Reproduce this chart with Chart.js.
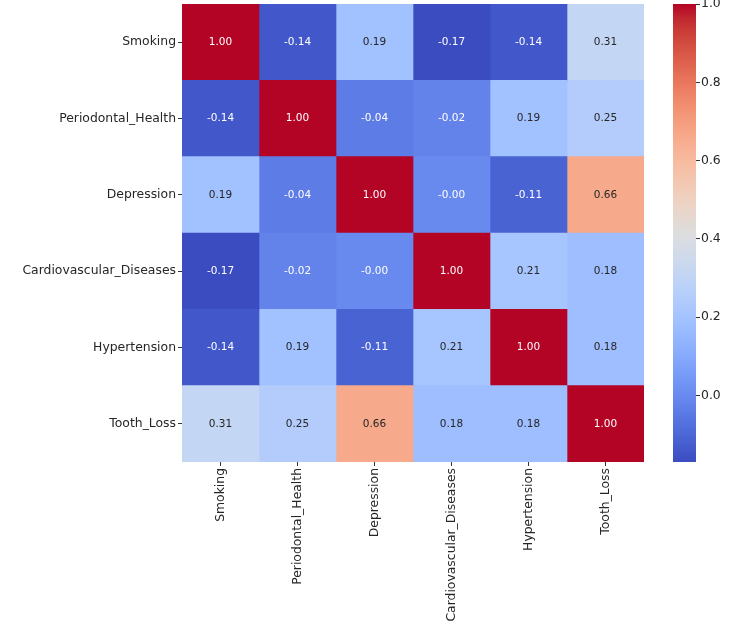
<!DOCTYPE html>
<html>
<head>
<meta charset="utf-8">
<script src="https://cdn.jsdelivr.net/npm/chart.js@4.4.1/dist/chart.umd.min.js"></script>
<style>
  html, body { margin: 0; padding: 0; background: #fff; }
  #wrap { position: relative; width: 750px; height: 626px; }
  #heat { position: absolute; left: 0; top: 0; }
  #cbar { position: absolute; left: 650px; top: 0; }
</style>
</head>
<body>
<div id="wrap">
  <canvas id="heat" width="750" height="626"></canvas>
  <canvas id="cbar" width="100" height="626"></canvas>
</div>
<script>
const varLabels = ['Smoking', 'Periodontal_Health', 'Depression', 'Cardiovascular_Diseases', 'Hypertension', 'Tooth_Loss'];

// correlation rows (same order as varLabels)
const smokingRow      = [1.00, -0.14, 0.19, -0.17, -0.14, 0.31];
const periodontalRow  = [-0.14, 1.00, -0.04, -0.02, 0.19, 0.25];
const depressionRow   = [0.19, -0.04, 1.00, -0.001, -0.11, 0.66];
const cardioRow       = [-0.17, -0.02, -0.001, 1.00, 0.21, 0.18];
const hypertensionRow = [-0.14, 0.19, -0.11, 0.21, 1.00, 0.18];
const toothLossRow    = [0.31, 0.25, 0.66, 0.18, 0.18, 1.00];

const colorbarTicks = [0.0, 0.2, 0.4, 0.6, 0.8, 1.0];

const matrix = [smokingRow, periodontalRow, depressionRow, cardioRow, hypertensionRow, toothLossRow];
const vmin = Math.min(...matrix.flat());
const vmax = Math.max(...matrix.flat());

// coolwarm colormap table
const coolwarm = [
  [59,76,192],[68,90,204],[77,104,215],[87,117,225],[98,130,234],[108,142,241],
  [119,154,247],[130,165,251],[141,176,254],[152,185,255],[163,194,255],[174,201,253],
  [184,208,249],[194,213,244],[204,217,238],[213,219,230],[221,221,221],[229,216,209],
  [236,211,197],[241,204,184],[245,196,172],[247,187,160],[247,177,148],[247,166,135],
  [244,154,123],[241,141,111],[236,127,99],[229,112,88],[222,96,77],[213,80,66],
  [203,62,56],[192,40,47],[180,4,38]
];

function cmap(t) {
  t = Math.max(0, Math.min(1, t));
  const f = t * (coolwarm.length - 1);
  const i = Math.min(Math.floor(f), coolwarm.length - 2);
  const k = f - i;
  const a = coolwarm[i], b = coolwarm[i + 1];
  return [0, 1, 2].map(j => Math.round(a[j] + (b[j] - a[j]) * k));
}
const rgb = c => `rgb(${c[0]},${c[1]},${c[2]})`;
const colorFor = v => cmap((v - vmin) / (vmax - vmin));

// same rule as seaborn for annotation colour
function textColor(c) {
  const lin = c.map(x => { x /= 255; return x <= 0.03928 ? x / 12.92 : Math.pow((x + 0.055) / 1.055, 2.4); });
  const lum = 0.2126 * lin[0] + 0.7152 * lin[1] + 0.0722 * lin[2];
  return lum > 0.408 ? '#262626' : '#ffffff';
}

Chart.defaults.font.family = 'DejaVu Sans';
Chart.defaults.color = '#262626';

const annotate = {
  id: 'annotate',
  afterDatasetsDraw(chart) {
    const { ctx, scales: { x, y } } = chart;
    ctx.save();
    ctx.font = '10.5px "DejaVu Sans"';
    ctx.textAlign = 'center';
    ctx.textBaseline = 'middle';
    matrix.forEach((row, r) => {
      row.forEach((v, c) => {
        ctx.fillStyle = textColor(colorFor(v));
        ctx.fillText(v.toFixed(2), x.getPixelForValue(c + 0.5), y.getPixelForValue(r));
      });
    });
    ctx.restore();
  }
};

// no extra room for half-labels at the ends of a scale
const noEndPadding = s => { s.paddingTop = 0; s.paddingBottom = 0; s.paddingLeft = 0; s.paddingRight = 0; };

new Chart(document.getElementById('heat'), {
  type: 'bar',
  data: {
    labels: varLabels,
    datasets: varLabels.map((name, c) => ({
      label: name,
      data: varLabels.map(() => [c, c + 1]),
      backgroundColor: matrix.map(row => rgb(colorFor(row[c]))),
      borderWidth: 0,
      barPercentage: 1,
      categoryPercentage: 1,
      grouped: false
    }))
  },
  options: {
    indexAxis: 'y',
    responsive: false,
    animation: false,
    devicePixelRatio: 1,
    layout: { autoPadding: false, padding: { top: 4, right: 106, left: 0, bottom: 0 } },
    plugins: { legend: { display: false }, tooltip: { enabled: false } },
    scales: {
      x: {
        type: 'linear',
        min: 0,
        max: 6,
        afterBuildTicks: s => { s.ticks = varLabels.map((_, i) => ({ value: i + 0.5 })); },
        afterFit: s => { s.height = 164; noEndPadding(s); },
        ticks: {
          autoSkip: false,
          minRotation: 90,
          maxRotation: 90,
          padding: 2,
          font: { size: 12.4 },
          color: '#262626',
          callback: (v, i) => varLabels[i]
        },
        grid: { drawOnChartArea: false, drawTicks: true, tickLength: 4, color: '#333' },
        border: { display: false }
      },
      y: {
        type: 'category',
        afterFit: s => { s.width = 182; noEndPadding(s); },
        ticks: { autoSkip: false, padding: 2, font: { size: 12.4 }, color: '#262626' },
        grid: { offset: false, drawOnChartArea: false, drawTicks: true, tickLength: 4, color: '#333' },
        border: { display: false }
      }
    }
  },
  plugins: [annotate]
});

new Chart(document.getElementById('cbar'), {
  type: 'bar',
  data: {
    labels: [''],
    datasets: [{
      data: [[vmin, vmax]],
      borderWidth: 0,
      barPercentage: 1,
      categoryPercentage: 1,
      backgroundColor: (context) => {
        const chart = context.chart;
        const yS = chart.scales.y;
        if (!chart.chartArea || !yS) return 'rgb(221,221,221)';
        const g = chart.ctx.createLinearGradient(0, yS.getPixelForValue(vmin), 0, yS.getPixelForValue(vmax));
        coolwarm.forEach((c, i) => g.addColorStop(i / (coolwarm.length - 1), rgb(c)));
        return g;
      }
    }]
  },
  options: {
    responsive: false,
    animation: false,
    devicePixelRatio: 1,
    layout: { autoPadding: false, padding: { top: 4, left: 23, right: 0, bottom: 164 } },
    plugins: { legend: { display: false }, tooltip: { enabled: false } },
    scales: {
      x: { display: false },
      y: {
        position: 'right',
        min: vmin,
        max: vmax,
        afterBuildTicks: s => { s.ticks = colorbarTicks.map(v => ({ value: v })); },
        afterFit: s => { s.width = 54; noEndPadding(s); },
        ticks: { padding: 1, font: { size: 12.4 }, color: '#262626', callback: v => v.toFixed(1) },
        grid: { drawOnChartArea: false, drawTicks: true, tickLength: 4, color: '#333' },
        border: { display: false }
      }
    }
  }
});
</script>
</body>
</html>
